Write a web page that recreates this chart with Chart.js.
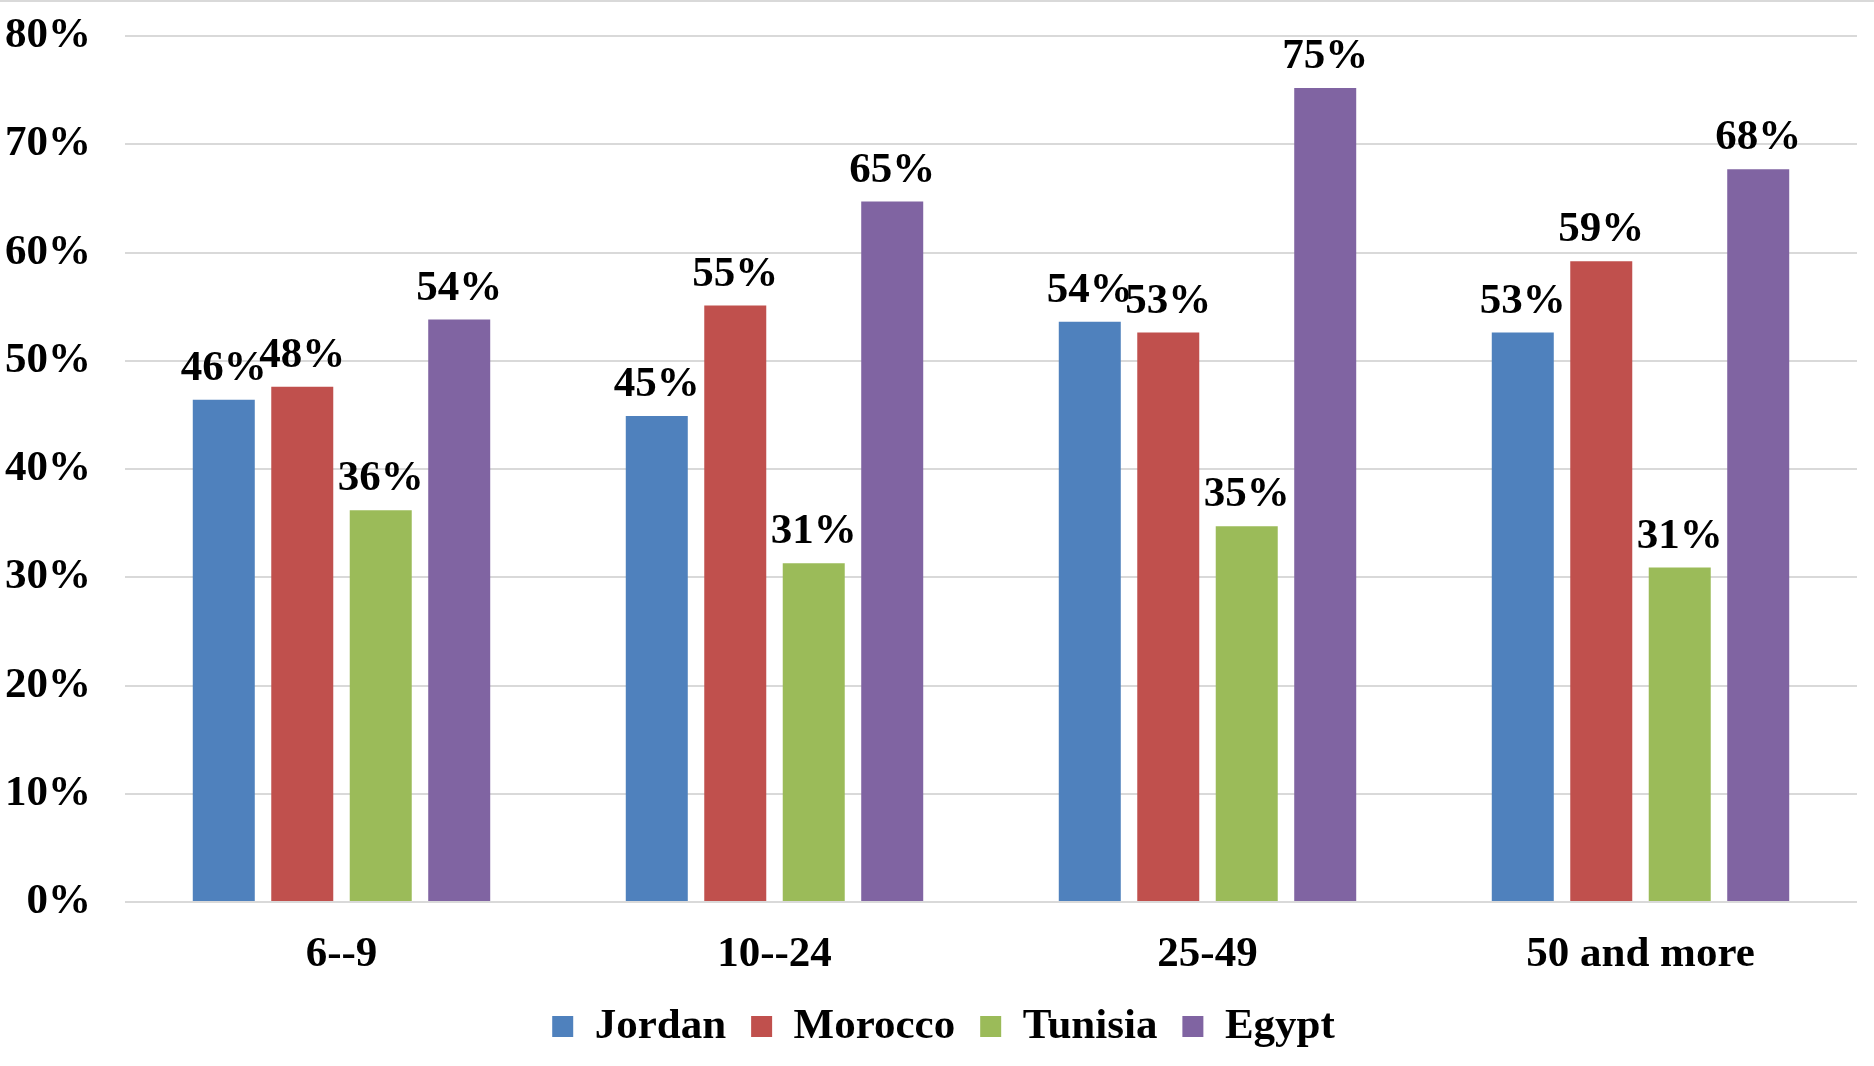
<!DOCTYPE html>
<html>
<head>
<meta charset="utf-8">
<script src="https://cdn.jsdelivr.net/npm/chart.js@4.4.0/dist/chart.umd.min.js"></script>
<style>
  body { margin: 0; background: #fff; }
  #wrap { width: 1874px; height: 1066px; position: relative; }
</style>
</head>
<body>
<div id="wrap"><canvas id="chart"></canvas></div>
<script>
// age groups and share per country
const ageGroups = ['6--9', '10--24', '25-49', '50 and more'];
const jordan = [0.464, 0.449, 0.536, 0.526];
const morocco = [0.476, 0.551, 0.526, 0.592];
const tunisia = [0.362, 0.313, 0.347, 0.309];
const egypt = [0.538, 0.647, 0.752, 0.677];
const yTicks = [0, 0.1, 0.2, 0.3, 0.4, 0.5, 0.6, 0.7, 0.8];

const serif = "'Liberation Serif', 'Times New Roman', serif";
const bigFont = { family: serif, size: 43, weight: 'bold' };

// draws the % above every bar
const barLabels = {
    id: 'barLabels',
    afterDatasetsDraw(chart) {
        const ctx = chart.ctx;
        ctx.save();
        ctx.font = 'bold 43px ' + serif;
        ctx.fillStyle = '#000';
        ctx.textAlign = 'center';
        ctx.textBaseline = 'alphabetic';
        chart.data.datasets.forEach((ds, i) => {
            chart.getDatasetMeta(i).data.forEach((bar, j) => {
                ctx.fillText(Math.round(ds.data[j] * 100) + '%', bar.x, bar.y - 20);
            });
        });
        ctx.restore();
    }
};

// thin grey line at the very top + legend centred on the page a bit to the right
const topLine = {
    id: 'topLine',
    beforeDraw(chart) {
        chart.legend.left = 13;
        chart.legend.right = chart.width;
        const ctx = chart.ctx;
        ctx.save();
        ctx.fillStyle = '#d9d9d9';
        ctx.fillRect(0, 0, chart.width, 2);
        ctx.restore();
    }
};

function makeSet(label, data, color) {
    return { label: label, data: data, backgroundColor: color, borderWidth: 0 };
}

const ctx = document.getElementById('chart').getContext('2d');
const myChart = new Chart(ctx, {
    type: 'bar',
    data: {
        labels: ageGroups,
        datasets: [
            makeSet('Jordan', jordan, '#4F81BD'),
            makeSet('Morocco', morocco, '#C0504D'),
            makeSet('Tunisia', tunisia, '#9BBB59'),
            makeSet('Egypt', egypt, '#8064A2')
        ]
    },
    options: {
        responsive: true,
        maintainAspectRatio: false,
        animation: false,
        datasets: { bar: { categoryPercentage: 0.725, barPercentage: 0.79 } },
        layout: { padding: { top: 0, left: 0, right: 17, bottom: 8 } },
        plugins: {
            tooltip: { enabled: false },
            legend: {
                position: 'bottom',
                labels: {
                    color: '#000',
                    font: bigFont,
                    boxWidth: 21,
                    boxHeight: 21,
                    padding: 25
                }
            }
        },
        scales: {
            x: {
                grid: { display: false },
                border: { display: false },
                afterFit(axis) { axis.height = 78; },
                ticks: { color: '#000', padding: 19, font: bigFont }
            },
            y: {
                min: 0,
                max: 0.8,
                afterBuildTicks(axis) {
                    axis.ticks = yTicks.map(v => ({ value: v }));
                },
                afterFit(axis) {
                    axis.width = 125;
                    axis.paddingTop = 36;
                    axis.paddingBottom = 0;
                },
                grid: { color: '#d9d9d9', lineWidth: 2, drawTicks: false },
                border: { display: false },
                ticks: {
                    color: '#000',
                    padding: 34,
                    font: bigFont,
                    callback: v => Math.round(v * 100) + '%'
                }
            }
        }
    },
    plugins: [barLabels, topLine]
});
</script>
</body>
</html>
